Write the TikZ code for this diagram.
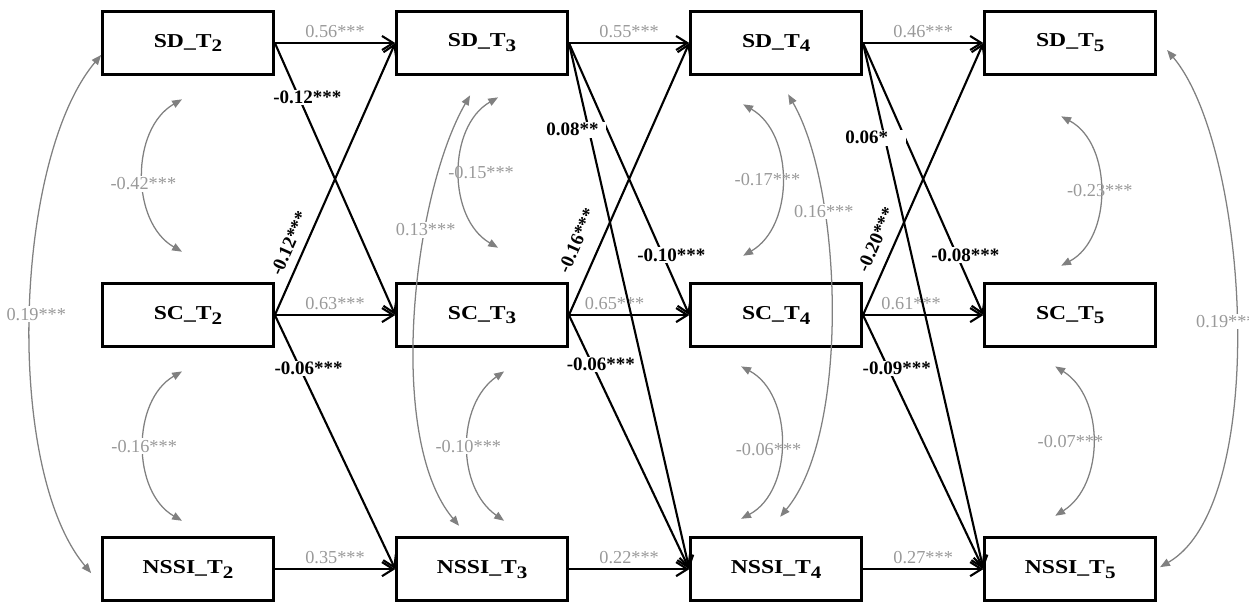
\documentclass[tikz,border=0pt]{standalone}
\usepackage{fontspec}
\setmainfont{Liberation Serif}
\newfontfamily\varfont[FakeStretch=1.2]{Liberation Serif}
\newcommand{\tsub}[1]{\raisebox{-0.55ex}{\fontsize{12.5}{14}\selectfont #1}}
\usetikzlibrary{arrows.meta,positioning}

\begin{document}
\begin{tikzpicture}[
    x=0.025cm, y=0.025cm,
    var/.style={rectangle, draw, line width=1.9pt, minimum width=4.275cm, minimum height=1.575cm, font=\varfont\fontsize{14}{16}\selectfont\bfseries},
    reg/.style={line width=1.5pt, -{Straight Barb[length=8pt,width=10pt]}},
    cov/.style={draw=gray, line width=0.9pt, {Triangle[length=7pt,width=5.5pt]}-{Triangle[length=7pt,width=5.5pt]}},
    coef/.style={text=gray!80, font=\fontsize{13}{15}\selectfont, inner sep=1pt},
    bcoef/.style={font=\fontsize{13.5}{15}\selectfont\bfseries, inner sep=1pt},
    gap/.style={fill=white}
]
\useasboundingbox (0,0) rectangle (1249,604);

% VARIABLES
\node[var] (sd2) at (188,561) {SD\_T\tsub{2}};
\node[var, below of=sd2, node distance=6.8cm] (sc2) {SC\_T\tsub{2}};
\node[var, below of=sc2, node distance=6.35cm] (nssi2) {NSSI\_T\tsub{2}};
\node[var, right of=sd2, node distance=7.35cm] (sd3) {SD\_T\tsub{3}};
\node[var, right of=sc2, node distance=7.35cm] (sc3) {SC\_T\tsub{3}};
\node[var, right of=nssi2, node distance=7.35cm] (nssi3) {NSSI\_T\tsub{3}};
\node[var, right of=sd3, node distance=7.35cm] (sd4) {SD\_T\tsub{4}};
\node[var, right of=sc3, node distance=7.35cm] (sc4) {SC\_T\tsub{4}};
\node[var, right of=nssi3, node distance=7.35cm] (nssi4) {NSSI\_T\tsub{4}};
\node[var, right of=sd4, node distance=7.35cm] (sd5) {SD\_T\tsub{5}};
\node[var, right of=sc4, node distance=7.35cm] (sc5) {SC\_T\tsub{5}};
\node[var, right of=nssi4, node distance=7.35cm] (nssi5) {NSSI\_T\tsub{5}};

% AUTORREGRESIVOS
\draw[reg] (sd2) -- node[coef, above=2pt]{0.56***} (sd3);
\draw[reg] (sc2) -- node[coef, above=2pt]{0.63***} (sc3);
\draw[reg] (nssi2) -- node[coef, above=2pt]{0.35***} (nssi3);
\draw[reg] (sd3) -- node[coef, above=2pt]{0.55***} (sd4);
\draw[reg] (sc3) -- node[coef, above=2pt, pos=0.38]{0.65***} (sc4);
\draw[reg] (nssi3) -- node[coef, above=2pt]{0.22***} (nssi4);
\draw[reg] (sd4) -- node[coef, above=2pt]{0.46***} (sd5);
\draw[reg] (sc4) -- node[coef, above=2pt, pos=0.4]{0.61***} (sc5);
\draw[reg] (nssi4) -- node[coef, above=2pt]{0.27***} (nssi5);

% CRUZADOS T2 -> T3
\draw[reg] (sd2.east) -- node[bcoef, gap, pos=0.2, xshift=6pt]{-0.12***} (sc3.west);
\draw[reg] (sc2.east) -- node[bcoef, pos=0.24, sloped, above=5pt]{-0.12***} (sd3.west);
\draw[reg] (sc2.east) -- node[bcoef, gap, pos=0.21, xshift=6pt]{-0.06***} (nssi3.west);

% CRUZADOS T3 -> T4
\draw[reg] (sd3.east) -- node[bcoef, gap, pos=0.78, xshift=6pt]{-0.10***} (sc4.west);
\draw[reg] (sd3.east) -- node[bcoef, gap, pos=0.165, xshift=-9.5pt]{0.08**\hspace{0.3em}\null} (nssi4.west);
\draw[reg] (sc3.east) -- node[bcoef, pos=0.24, sloped, above=10pt]{-0.16***} (sd4.west);
\draw[reg] (sc3.east) -- node[bcoef, gap, pos=0.195, xshift=6pt]{-0.06***} (nssi4.west);

% CRUZADOS T4 -> T5
\draw[reg] (sd4.east) -- node[bcoef, gap, pos=0.78, xshift=6pt]{-0.08***} (sc5.west);
\draw[reg] (sd4.east) -- node[bcoef, gap, pos=0.18, xshift=-7pt]{0.06*\hspace{0.85em}\null} (nssi5.west);
\draw[reg] (sc4.east) -- node[bcoef, pos=0.25, sloped, above=7pt]{-0.20***} (sd5.west);
\draw[reg] (sc4.east) -- node[bcoef, gap, pos=0.21, xshift=6pt]{-0.09***} (nssi5.west);

% COVARIANZAS
\draw[cov] ([shift={(-6,-23.5)}]sd2.south) to[bend right=60] node[coef, gap, yshift=-6pt]{-0.42***} ([shift={(-6,30.5)}]sc2.north);
\draw[cov] ([shift={(-6,-23.5)}]sc2.south) to[bend right=60] node[coef, gap]{-0.16***} ([shift={(-6,15.5)}]nssi2.north);
\draw[cov] ([shift={(0,-12)}]sd2.west) to[out=230, in=130, looseness=0.67] node[coef, gap, xshift=4pt]{0.19***} ([shift={(-10,-4)}]nssi2.west);

\draw[cov] ([shift={(16,-21.5)}]sd3.south) to[bend right=60] node[coef, xshift=15pt]{-0.15***} ([shift={(16,34.5)}]sc3.north);
\draw[cov] ([shift={(22,-23.5)}]sc3.south) to[bend right=55] node[coef, gap]{-0.10***} ([shift={(22,15.5)}]nssi3.north);
\draw[cov] ([shift={(-12,-19.5)}]sd3.south) to[out=240, in=130, looseness=0.68] node[coef, gap, pos=0.33]{0.13***} ([shift={(-23,10.5)}]nssi3.north);

\draw[cov] ([shift={(-33,-28.5)}]sd4.south) to[bend left=60] node[coef, xshift=-10pt]{-0.17***} ([shift={(-33,26.5)}]sc4.north);
\draw[cov] ([shift={(-35,-18.5)}]sc4.south) to[bend left=62] node[coef, xshift=-8.5pt, yshift=-5pt]{-0.06***} ([shift={(-35,17.5)}]nssi4.north);
\draw[cov] ([shift={(12,-18.5)}]sd4.south) to[out=300, in=50, looseness=0.66] node[coef, gap, pos=0.3]{0.16***} ([shift={(4,19.5)}]nssi4.north);

\draw[cov] ([shift={(-9,-40.5)}]sd5.south) to[bend left=62] node[coef]{-0.23***} ([shift={(-9,16.5)}]sc5.north);
\draw[cov] ([shift={(-15,-18.5)}]sc5.south) to[bend left=58] node[coef, xshift=-15.5pt]{-0.07***} ([shift={(-15,20.5)}]nssi5.north);
\draw[cov] ([shift={(10,-7)}]sd5.east) to[out=310, in=30, looseness=0.63] node[coef, gap, xshift=-7pt]{0.19***} ([shift={(3,2)}]nssi5.east);

\end{tikzpicture}
\end{document}
